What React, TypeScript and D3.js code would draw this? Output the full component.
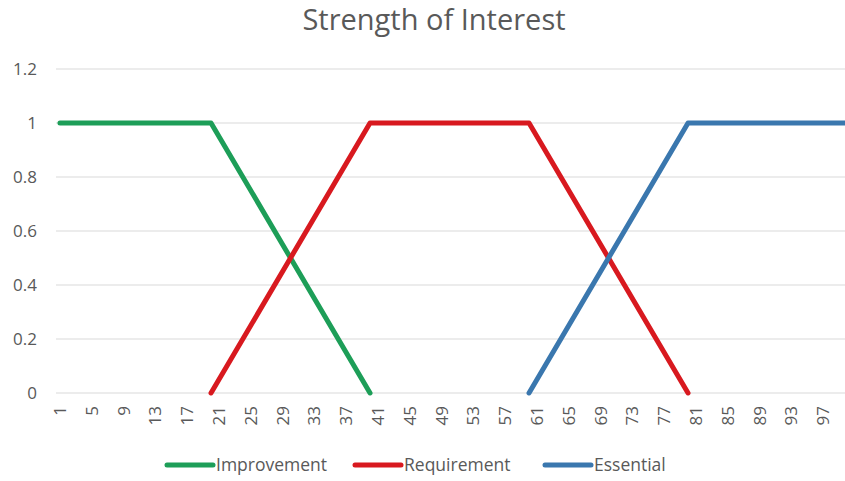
import React, { useEffect, useRef } from "react";
import * as d3 from "d3";

// category axis 1..100, labels every 4th
const categories = d3.range(1, 101).map(String);
const tickLabels = ["1", "5", "9", "13", "17", "21", "25", "29", "33", "37", "41", "45", "49", "53", "57", "61", "65", "69", "73", "77", "81", "85", "89", "93", "97"];
const yTicks = [0, 0.2, 0.4, 0.6, 0.8, 1, 1.2];

// breakpoints of each series (category label, value)
const improvementX = ["1", "20", "40"];
const improvementY = [1, 1, 0];
const requirementX = ["20", "40", "60", "80"];
const requirementY = [0, 1, 1, 0];
const essentialX = ["60", "80", "100"];
const essentialY = [0, 1, 1];

const seriesNames = ["Improvement", "Requirement", "Essential"];
const seriesColors = ["#1d9e58", "#d8191f", "#3a77ae"];

export default function App() {
  const ref = useRef<SVGSVGElement>(null);
  const width = 845;
  const height = 481;
  const margin = { top: 69, right: -6, bottom: 88, left: 56 };

  useEffect(() => {
    const svg = d3.select(ref.current);
    svg.selectAll("*").remove();
    const font = "'Open Sans', sans-serif";

    const x = d3
      .scalePoint()
      .domain(categories)
      .range([margin.left, width - margin.right])
      .padding(0.5);
    const y = d3
      .scaleLinear()
      .domain([0, 1.2])
      .range([height - margin.bottom, margin.top]);

    svg
      .append("text")
      .attr("x", 434)
      .attr("y", 30)
      .attr("text-anchor", "middle")
      .attr("font-family", font)
      .attr("font-size", 29)
      .attr("fill", "#595959")
      .text("Strength of Interest");

    // gridlines
    svg
      .append("g")
      .selectAll("line")
      .data(yTicks)
      .enter()
      .append("line")
      .attr("x1", margin.left)
      .attr("x2", width)
      .attr("y1", (d) => y(d))
      .attr("y2", (d) => y(d))
      .attr("stroke", "#d9d9d9")
      .attr("stroke-width", 1);

    svg
      .append("g")
      .attr("font-family", font)
      .attr("font-size", 17)
      .attr("fill", "#595959")
      .attr("text-anchor", "end")
      .selectAll("text")
      .data(yTicks)
      .enter()
      .append("text")
      .attr("x", 37)
      .attr("y", (d) => y(d))
      .attr("dy", "0.35em")
      .text((d) => String(d));

    svg
      .append("g")
      .attr("font-family", font)
      .attr("font-size", 17)
      .attr("fill", "#595959")
      .attr("text-anchor", "end")
      .selectAll("text")
      .data(tickLabels)
      .enter()
      .append("text")
      .attr("transform", (d) => `translate(${x(d)}, 406) rotate(-90)`)
      .attr("dy", "0.35em")
      .text((d) => d);

    const line = d3
      .line<[string, number]>()
      .x((d) => x(d[0]) as number)
      .y((d) => y(d[1]));

    const series: [string, number][][] = [
      improvementX.map((c, i) => [c, improvementY[i]]),
      requirementX.map((c, i) => [c, requirementY[i]]),
      essentialX.map((c, i) => [c, essentialY[i]]),
    ];

    svg
      .append("g")
      .selectAll("path")
      .data(series)
      .enter()
      .append("path")
      .attr("d", (d) => line(d))
      .attr("fill", "none")
      .attr("stroke", (d, i) => seriesColors[i])
      .attr("stroke-width", 5)
      .attr("stroke-linejoin", "round")
      .attr("stroke-linecap", "round");

    // legend
    const legendX = [167, 355, 545];
    const legend = svg
      .append("g")
      .selectAll("g")
      .data(seriesNames)
      .enter()
      .append("g")
      .attr("transform", (d, i) => `translate(${legendX[i]}, 465)`);
    legend
      .append("line")
      .attr("x1", 0)
      .attr("x2", 46)
      .attr("stroke", (d, i) => seriesColors[i])
      .attr("stroke-width", 5)
      .attr("stroke-linecap", "round");
    legend
      .append("text")
      .attr("x", 49)
      .attr("dy", "0.35em")
      .attr("font-family", font)
      .attr("font-size", 17.5)
      .attr("fill", "#595959")
      .text((d) => d);
  }, []);

  return (
    <svg
      ref={ref}
      width={width}
      height={height}
      style={{ position: "absolute", left: 0, top: 0, background: "#fff" }}
    />
  );
}
